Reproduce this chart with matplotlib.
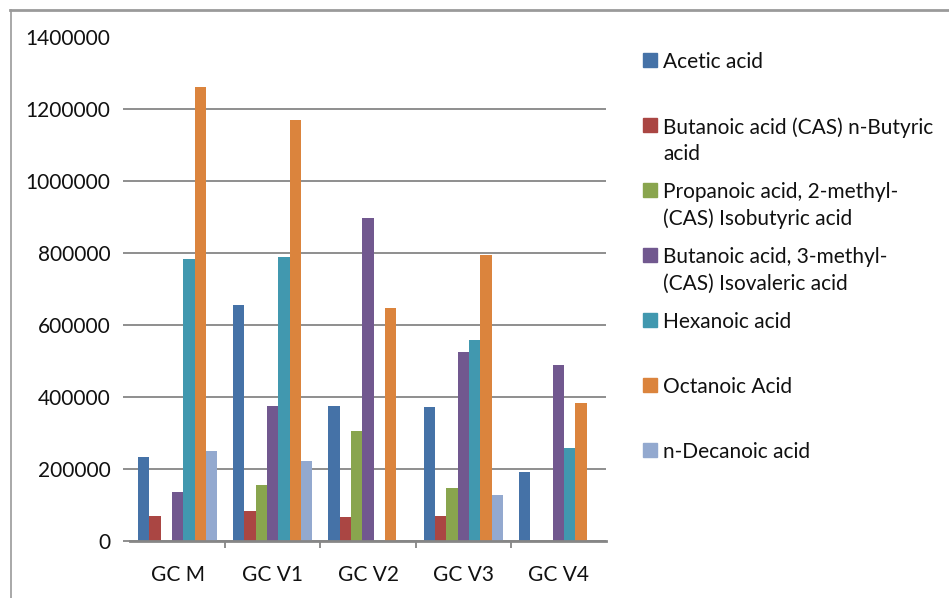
import numpy as np
import matplotlib
matplotlib.use('Agg')
import matplotlib.pyplot as plt
from matplotlib.lines import Line2D
from matplotlib.patches import Rectangle

plt.rcParams['font.family'] = ['Lato', 'DejaVu Sans']

# muestras y compuestos
muestras = ['GC M', 'GC V1', 'GC V2', 'GC V3', 'GC V4']
compuestos = [
    'Acetic acid',
    'Butanoic acid (CAS) n-Butyric\nacid',
    'Propanoic acid, 2-methyl-\n(CAS) Isobutyric acid',
    'Butanoic acid, 3-methyl-\n(CAS) Isovaleric acid',
    'Hexanoic acid',
    'Octanoic Acid',
    'n-Decanoic acid',
]
colores = ['#4572A7', '#AA4643', '#89A54E', '#71588F', '#4198AF', '#DB843D', '#93A9CF']

# areas por compuesto (una lista por compuesto, en el orden de las muestras)
acetico = [233000, 656000, 375000, 372000, 192000]
butirico = [70000, 83000, 67000, 70000, 0]
isobutirico = [0, 156000, 306000, 147000, 0]
isovalerico = [136000, 375000, 897000, 525000, 489000]
hexanoico = [783000, 789000, 0, 558000, 258000]
octanoico = [1261000, 1170000, 647000, 795000, 383000]
decanoico = [250000, 222000, 0, 128000, 0]
series = [acetico, butirico, isobutirico, isovalerico, hexanoico, octanoico, decanoico]

W, H = 949, 598
fig = plt.figure(figsize=(W / 100, H / 100), dpi=100)
ax = fig.add_axes([130 / W, 57 / H, 476 / W, 504 / H])

x = np.arange(len(muestras))
ancho = 0.119
for i, (vals, col) in enumerate(zip(series, colores)):
    ax.bar(x + (i - 3) * ancho, vals, ancho, color=col, zorder=3)

ax.set_xlim(-0.5, len(muestras) - 0.5)
ax.set_ylim(0, 1400000)
ax.set_yticks(np.arange(0, 1400001, 200000))
ax.set_yticklabels([str(v) for v in range(0, 1400001, 200000)])
ax.yaxis.grid(True, color='#868686', linewidth=1.3, zorder=0)
ax.tick_params(axis='y', length=5, width=1.3, color='#868686', pad=9,
               labelsize=15, labelcolor='#111111')
# sin linea ni marca en el tope del eje
ax.get_ygridlines()[-1].set_visible(False)
ax.yaxis.get_major_ticks()[-1].tick1line.set_visible(False)

# marcas entre categorias y etiquetas centradas
ax.set_xticks(x[:-1] + 0.5)
ax.set_xticklabels([])
ax.set_xticks(x, minor=True)
ax.set_xticklabels(muestras, minor=True)
ax.tick_params(axis='x', which='major', length=5, width=1.3, color='#868686')
ax.tick_params(axis='x', which='minor', length=0, pad=17, labelsize=15,
               labelcolor='#111111')

for s in ['left', 'right', 'top']:
    ax.spines[s].set_visible(False)
ax.spines['bottom'].set_color('#868686')
ax.spines['bottom'].set_linewidth(2)
ax.spines['bottom'].set_zorder(4)

# leyenda a mano para alinear el cuadro con la primera linea
for k, (nombre, col) in enumerate(zip(compuestos, colores)):
    yc = 1 - (60 + 65 * k) / H
    fig.add_artist(Rectangle((643 / W, yc - 7 / H), 14 / W, 14 / H,
                             transform=fig.transFigure, color=col))
    fig.text(663 / W, yc + 8 / H, nombre, fontsize=15, color='#111111',
             va='top', ha='left', linespacing=1.4)

# borde del grafico
fig.add_artist(Line2D([10 / W, 1], [1 - 10 / H, 1 - 10 / H], color='#9a9a9a', lw=2))
fig.add_artist(Line2D([11 / W, 11 / W], [0, 1 - 10 / H], color='#9a9a9a', lw=1.2))

fig.savefig('out.png', dpi=100)
